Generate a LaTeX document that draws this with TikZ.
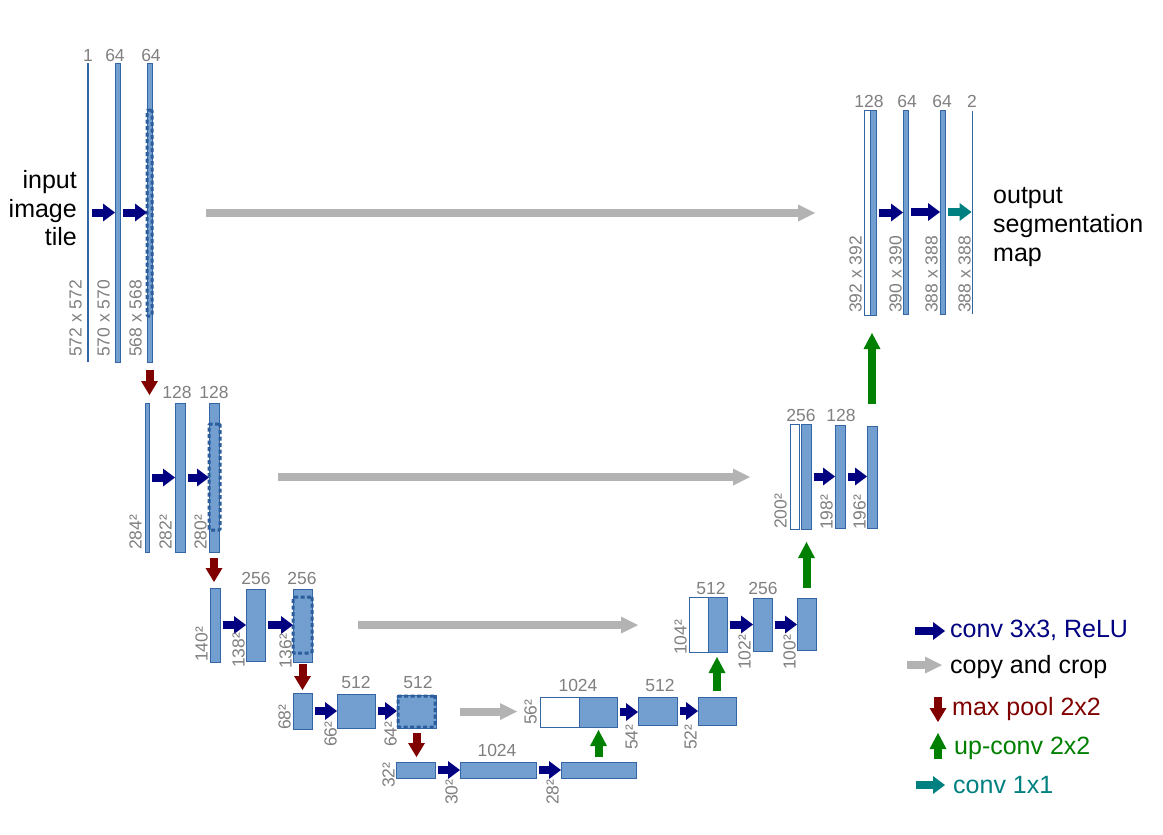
\documentclass[tikz,border=0pt]{standalone}
\usepackage{fontspec}
\setmainfont{Liberation Sans}
\usetikzlibrary{arrows.meta}
\definecolor{blkfill}{HTML}{729FCF}
\definecolor{blkdraw}{HTML}{3465A4}
\definecolor{dashc}{HTML}{2B5C9C}
\definecolor{navyc}{HTML}{000080}
\definecolor{poolc}{HTML}{800000}
\definecolor{upc}{HTML}{008000}
\definecolor{tealc}{HTML}{008080}
\definecolor{copyc}{HTML}{B3B3B3}
\definecolor{lblc}{HTML}{808080}
\newcommand\ubox[6][]{\node[blk,#1,minimum width={(#5-#3)*1pt},minimum height={(#6-#4)*1pt}] (#2) at ({(#3+#5)/2},{(#4+#6)/2}) {};}
\tikzset{
  blk/.style={draw=blkdraw, fill=blkfill, line width=1pt, inner sep=0pt, outer sep=0pt},
  thinbar/.style={draw=none, fill=blkdraw},
  whitebox/.style={fill=white},
  dbox/.style={draw=dashc, fill=none, line width=3pt, dash pattern=on 4pt off 2.5pt, rounded corners=1pt},
  lbl/.style={text=lblc, font=\fontsize{17.5}{20}\selectfont, inner sep=0pt},
  rl/.style={lbl, rotate=90, anchor=south west},
  tl/.style={lbl, anchor=base},
  bigtxt/.style={font=\fontsize{25}{29}\selectfont, inner sep=0pt},
  convar/.style={draw=navyc, line width=8pt, -{Triangle[length=12pt,width=18pt,line width=0pt]}, shorten <=3pt},
  oneconvar/.style={draw=tealc, line width=8pt, -{Triangle[length=12pt,width=18pt,line width=0pt]}, shorten <=3pt},
  copyar/.style={draw=copyc, line width=8pt, -{Triangle[length=17pt,width=17pt,line width=0pt]}},
  poolar/.style={draw=poolc, line width=8pt, -{Triangle[length=14pt,width=17pt,line width=0pt]}},
  upar/.style={draw=upc, line width=8pt, -{Triangle[length=16pt,width=17pt,line width=0pt]}},
}
\begin{document}
\begin{tikzpicture}[x=1pt,y=-1pt]
\useasboundingbox[fill=white] (0,0) rectangle (1163,835);
% ---------- level 1 (left)
\ubox[thinbar]{l1a}{87}{63}{89}{362}
\ubox{l1b}{115}{63}{120}{362}
\ubox{l1c}{147}{63}{152}{362}
\ubox[dbox]{d1}{147}{110}{152}{316}
% ---------- level 2
\ubox{l2a}{145}{403}{149}{552}
\ubox{l2b}{175}{403}{185}{552}
\ubox{l2c}{209}{403}{219}{552}
\ubox[dbox]{d2}{209}{424}{220}{530}
% ---------- level 3
\ubox{l3a}{210}{588}{220}{662}
\ubox{l3b}{246}{589}{265}{661}
\ubox{l3c}{293}{589}{312}{662}
\ubox[dbox]{d3}{293}{597}{312}{653}
% ---------- level 4
\ubox{l4a}{293}{693}{312}{729}
\ubox{l4b}{337}{694}{375}{728}
\ubox{l4c}{397}{695}{436}{728}
\ubox[dbox]{d4}{398}{696}{435}{727}
% ---------- level 5
\ubox{l5a}{396}{762}{435}{778}
\ubox{l5b}{460}{762}{536}{778}
\ubox{l5c}{561}{762}{636}{778}
% ---------- level 4 (right)
\ubox[whitebox]{r4w}{540}{697}{579}{727}
\ubox{r4b}{579}{697}{617}{727}
\ubox{r4c}{638}{697}{677}{725}
\ubox{r4d}{698}{697}{736}{725}
% ---------- level 3 (right)
\ubox[whitebox]{r3w}{689}{597}{708}{652}
\ubox{r3b}{708}{597}{727}{652}
\ubox{r3c}{753}{598}{772}{651}
\ubox{r3d}{797}{598}{816}{650}
% ---------- level 2 (right)
\ubox[whitebox]{r2w}{790}{424}{799}{529}
\ubox{r2b}{801}{424}{811}{529}
\ubox{r2c}{835}{425}{845}{528}
\ubox{r2d}{867}{426}{877}{528}
% ---------- level 1 (right)
\ubox[whitebox]{r1w}{864}{110}{870}{315}
\ubox{r1b}{870}{110}{876}{315}
\ubox{r1c}{903}{110}{908}{314}
\ubox{r1d}{940}{110}{945}{314}
\ubox[thinbar]{r1e}{971.5}{111}{973}{314}
% ---------- conv 3x3 arrows
\foreach \a/\b in {l1a/l1b,l1b/l1c,l2a/l2b,l2b/l2c,l3a/l3b,l3b/l3c,l4a/l4b,l4b/l4c,l5a/l5b,l5b/l5c,r4b/r4c,r4c/r4d,r3b/r3c,r3c/r3d,r2b/r2c,r2c/r2d,r1b/r1c,r1c/r1d}
  \draw[convar] (\a.east) -- (\a.east -| \b.west);
\draw[oneconvar] (r1d.east) -- (r1d.east -| r1e.west);
% ---------- copy and crop
\draw[copyar, shorten <=54pt, shorten >=49pt] (d1.east) -- (d1.east -| r1w.west);
\draw[copyar, shorten <=58pt, shorten >=40pt] (d2.east) -- (d2.east -| r2w.west);
\draw[copyar, shorten <=46pt, shorten >=51pt] (d3.east) -- (d3.east -| r3w.west);
\draw[copyar, shorten <=25pt, shorten >=23pt] (d4.east) -- (d4.east -| r4w.west);
% ---------- max pool
\draw[poolar, shorten <=8pt, shorten >=8pt] (l1c.south) -- (l1c.south |- l2a.north);
\draw[poolar, shorten <=6pt, shorten >=6pt] (l2c.south) -- (l2c.south |- l3a.north);
\draw[poolar, shorten <=2pt, shorten >=3pt] (l3c.south) -- (l3c.south |- l4a.north);
\draw[poolar, shorten <=5pt, shorten >=5pt] (l4c.south) -- (l4c.south |- l5a.north);
% ---------- up-conv
\draw[upar, shorten <=5pt, shorten >=3pt] (l5c.north) -- (l5c.north |- r4b.south);
\draw[upar, shorten <=6pt, shorten >=5pt] (r4d.north) -- (r4d.north |- r3b.south);
\draw[upar, shorten <=10pt, shorten >=13pt] (r3d.north) -- (r3d.north |- r2b.south);
\draw[upar, shorten <=22pt, shorten >=18pt] (r2d.north) -- (r2d.north |- r1b.south);
% ---------- channel labels
\node[tl] (c1a) at (88,61) {1};
\node[tl] (c1b) at (115,61) {64};
\node[tl] (c1c) at (151,61) {64};
\node[tl] (c2b) at (177,398) {128};
\node[tl] (c2c) at (214,398) {128};
\node[tl] (c3b) at (256,584) {256};
\node[tl] (c3c) at (302,584) {256};
\node[tl] (c4b) at (356,688) {512};
\node[tl] (c4c) at (418,688) {512};
\node[tl] (c5b) at (497,756) {1024};
\node[tl] (c4r) at (578,691) {1024};
\node[tl] (c4s) at (660,691) {512};
\node[tl] (c3r) at (711,594) {512};
\node[tl] (c3s) at (763,594) {256};
\node[tl] (c2r) at (801,421) {256};
\node[tl] (c2s) at (841,421) {128};
\node[tl] (c1r) at (869,107) {128};
\node[tl] (c1s) at (907,107) {64};
\node[tl] (c1t) at (942,107) {64};
\node[tl] (c1u) at (972,107) {2};
% ---------- size labels
\node[rl] (s1a) at (82,357) {572 x 572};
\node[rl] (s1b) at (110,357) {570 x 570};
\node[rl] (s1c) at (142,357) {568 x 568};
\node[rl] (s2a) at (142,550) {284²};
\node[rl] (s2b) at (172,550) {282²};
\node[rl] (s2c) at (207,550) {280²};
\node[rl] (s3a) at (208,662) {140²};
\node[rl] (s3b) at (245,668) {138²};
\node[rl] (s3c) at (292,669) {136²};
\node[rl] (s4a) at (291,730) {68²};
\node[rl] (s4b) at (337,747) {66²};
\node[rl] (s4c) at (397,747) {64²};
\node[rl] (s5a) at (395,788) {32²};
\node[rl] (s5b) at (458,805) {30²};
\node[rl] (s5c) at (559,805) {28²};
\node[rl] (s4r) at (537,725) {56²};
\node[rl] (s4s) at (638,750) {54²};
\node[rl] (s4t) at (697,750) {52²};
\node[rl] (s3r) at (687,655) {104²};
\node[rl] (s3s) at (751,670) {102²};
\node[rl] (s3t) at (796,670) {100²};
\node[rl] (s2r) at (787,529) {200²};
\node[rl] (s2s) at (833,530) {198²};
\node[rl] (s2t) at (866,530) {196²};
\node[rl] (s1r) at (862,313) {392 x 392};
\node[rl] (s1s) at (902,313) {390 x 390};
\node[rl] (s1t) at (938,313) {388 x 388};
\node[rl] (s1u) at (971,313) {388 x 388};
% ---------- input / output texts
\node[bigtxt, anchor=base east] (in1) at (77,188) {input};
\node[bigtxt, anchor=base east] (in2) at (77,217) {image};
\node[bigtxt, anchor=base east] (in3) at (77,245) {tile};
\node[bigtxt, anchor=base west] (out1) at (993,203) {output};
\node[bigtxt, anchor=base west] (out2) at (993,232) {segmentation};
\node[bigtxt, anchor=base west] (out3) at (993,261) {map};
% ---------- legend
\node[bigtxt, anchor=base west, text=navyc] (t1) at (950,637) {conv 3x3, ReLU};
\node[bigtxt, anchor=base west] (t2) at (950,673) {copy and crop};
\node[bigtxt, anchor=base west, text=poolc] (t3) at (952,715) {max pool 2x2};
\node[bigtxt, anchor=base west, text=upc] (t4) at (954,754) {up-conv 2x2};
\node[bigtxt, anchor=base west, text=tealc] (t5) at (953,793) {conv 1x1};
\coordinate (g1) at (915,631);
\coordinate (g2) at (907,665);
\coordinate (g3) at (938,697);
\coordinate (g3b) at (938,722);
\coordinate (g4) at (938,759);
\coordinate (g4b) at (938,733);
\coordinate (g5) at (916,785);
\draw[convar, shorten <=0pt, shorten >=5pt] (g1) -- (g1 -| t1.west);
\draw[copyar, shorten >=8pt] (g2) -- (g2 -| t2.west);
\draw[poolar] (g3) -- (g3b);
\draw[upar] (g4) -- (g4b);
\draw[oneconvar, shorten <=0pt, shorten >=8pt] (g5) -- (g5 -| t5.west);
\end{tikzpicture}
\end{document}
